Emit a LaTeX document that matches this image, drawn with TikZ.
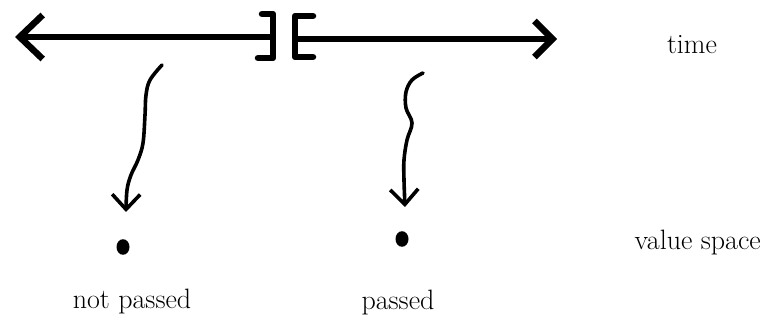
\documentclass[tikz,border=0pt]{standalone}
\usetikzlibrary{arrows.meta}
\begin{document}
\begin{tikzpicture}[x=1pt,y=-1pt,
  thickline/.style={line width=6pt,line cap=round,line join=round},
  squig/.style={line width=3.6pt,line cap=round,line join=round,
    -{Straight Barb[length=15pt,width=28pt,line width=3.6pt]}},
  dotnode/.style={circle,fill=black,inner sep=0pt,minimum width=13pt,yscale=1.2},
  lbl/.style={font=\fontsize{28}{32}\selectfont,inner sep=0pt}]
\useasboundingbox (0,0) rectangle (764,320);
% main time line
\coordinate (ltip) at (15,37);
\coordinate (lend) at (273,37);
\coordinate (rstart) at (295,39);
\coordinate (rtip) at (557,39);
\draw[thickline,-{Straight Barb[length=23pt,width=44pt,line width=6.5pt]}] (lend) -- (ltip);
\draw[thickline,-{Straight Barb[length=18pt,width=36pt,line width=6.5pt]}] (rstart) -- (rtip);
% brackets
\draw[thickline,line width=6.5pt] (262,14) -- (273,14) -- (273,58) -- (258,58);
\draw[thickline,line width=6.5pt] (313,16) -- (295,16) -- (295,57) -- (313,57);
% dots
\node[dotnode] (ldot) at (123,247) {};
\node[dotnode] (rdot) at (402,239) {};
% squiggles
\coordinate (ls) at (162,65);
\coordinate (le) at (126,212);
\coordinate (rs) at (423,73);
\coordinate (re) at (405,207);
\draw[squig] plot[smooth,tension=0.6] coordinates {(ls) (150,80) (146,95) (145,115) (143,143) (138,160) (131,175) (127,190) (le)};
\draw[squig] plot[smooth,tension=0.6] coordinates {(rs) (412,80) (406,92) (406,108) (412,123) (407,140) (404,160) (404,180) (re)};
% labels
\node[lbl] (time) at (692,45) {time};
\node[lbl,anchor=east] (vs) at (761,243) {value space};
\node[lbl] (np) at (132,302) {not passed};
\node[lbl] (p) at (398,303) {passed};
\end{tikzpicture}
\end{document}
